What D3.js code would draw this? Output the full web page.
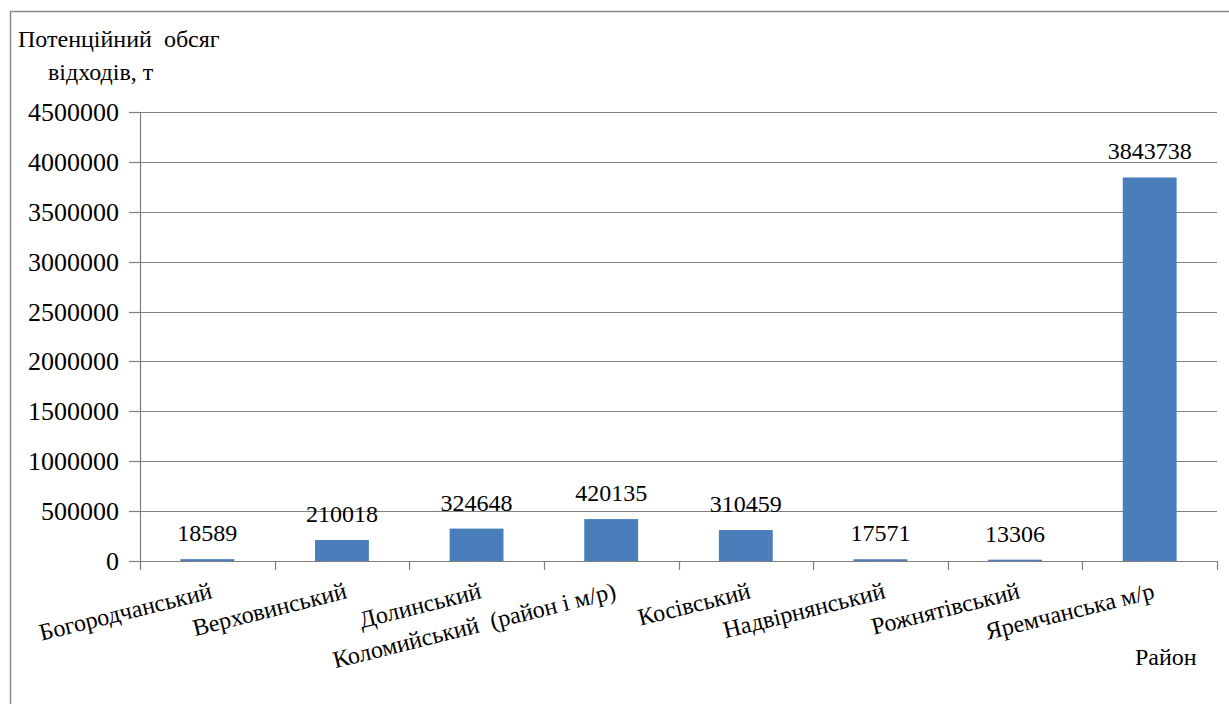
<!DOCTYPE html>
<html>
<head>
<meta charset="utf-8">
<script src="https://cdn.jsdelivr.net/npm/d3@7"></script>
</head>
<body style="margin:0">
<svg id="chart" width="1229" height="704"></svg>
<script>
// ---- data ----
const categories = [
  "Богородчанський",
  "Верховинський",
  "Долинський",
  "Коломийський\u00A0 (район і м/р)",
  "Косівський",
  "Надвірнянський",
  "Рожнятівський",
  "Яремчанська м/р"
];
const values = [18589, 210018, 324648, 420135, 310459, 17571, 13306, 3843738];
const yTicks = [0, 500000, 1000000, 1500000, 2000000, 2500000, 3000000, 3500000, 4000000, 4500000];
const yTitleLines = ["Потенційний\u00A0 обсяг", "відходів, т"];
const xTitle = "Район";

// ---- layout ----
const W = 1229, H = 704;
const plot = { left: 140, right: 1217, top: 112, bottom: 561 };
const svg = d3.select("#chart");

// outer frame
svg.append("rect")
  .attr("x", 10.5).attr("y", 11.5)
  .attr("width", W + 20).attr("height", H + 20)
  .attr("fill", "none").attr("stroke", "#8a8a8a").attr("stroke-width", 1.5);

const x = d3.scaleBand().domain(categories)
  .range([plot.left, plot.right]).paddingInner(0.6).paddingOuter(0.3);
const y = d3.scaleLinear().domain([0, 4500000]).range([plot.bottom, plot.top]);

const gridColor = "#7f7f7f";

function styleText(sel, size) {
  sel.attr("font-size", size).style("font-family", '"Liberation Serif"');
}

// gridlines
svg.append("g").selectAll("line").data(yTicks.filter(d => d > 0)).join("line")
  .attr("x1", plot.left).attr("x2", plot.right)
  .attr("y1", d => Math.round(y(d)) + 0.5).attr("y2", d => Math.round(y(d)) + 0.5)
  .attr("stroke", gridColor).attr("stroke-width", 1.2);

// bars
svg.append("g").selectAll("rect").data(values).join("rect")
  .attr("x", (d, i) => x(categories[i]))
  .attr("width", x.bandwidth())
  .attr("y", d => y(d))
  .attr("height", d => y(0) - y(d))
  .attr("fill", "#4a7ebb");

// y axis line and ticks
svg.append("line")
  .attr("x1", plot.left + 0.5).attr("x2", plot.left + 0.5)
  .attr("y1", plot.top).attr("y2", plot.bottom)
  .attr("stroke", gridColor).attr("stroke-width", 1.2);
svg.append("g").selectAll("line").data(yTicks).join("line")
  .attr("x1", plot.left - 11).attr("x2", plot.left)
  .attr("y1", d => Math.round(y(d)) + 0.5).attr("y2", d => Math.round(y(d)) + 0.5)
  .attr("stroke", gridColor).attr("stroke-width", 1.2);
svg.selectAll("text.ytick").data(yTicks).join("text")
  .attr("class", "ytick")
  .attr("x", plot.left - 21)
  .attr("y", d => y(d) + 9)
  .attr("text-anchor", "end")
  .call(styleText, 26)
  .text(d => d3.format("d")(d));

// x axis line and ticks at category boundaries
const boundaries = d3.range(categories.length + 1).map(i => plot.left + i * (plot.right - plot.left) / categories.length);
svg.append("line")
  .attr("x1", plot.left).attr("x2", plot.right)
  .attr("y1", plot.bottom + 0.5).attr("y2", plot.bottom + 0.5)
  .attr("stroke", gridColor).attr("stroke-width", 1.2);
svg.append("g").selectAll("line").data(boundaries).join("line")
  .attr("x1", d => Math.round(d) + 0.5).attr("x2", d => Math.round(d) + 0.5)
  .attr("y1", plot.bottom).attr("y2", plot.bottom + 9)
  .attr("stroke", gridColor).attr("stroke-width", 1.2);

// x labels (rotated)
svg.selectAll("text.xlab").data(categories).join("text")
  .attr("class", "xlab")
  .attr("transform", d => `translate(${x(d) + x.bandwidth() / 2 + 6},${plot.bottom + 37}) rotate(-14)`)
  .attr("text-anchor", "end")
  .call(styleText, 24)
  .text(d => d);

// data labels
svg.selectAll("text.dlab").data(values).join("text")
  .attr("class", "dlab")
  .attr("x", (d, i) => x(categories[i]) + x.bandwidth() / 2)
  .attr("y", d => y(d) - 18)
  .attr("text-anchor", "middle")
  .call(styleText, 24)
  .text(d => d);

// y title
svg.append("text").attr("x", 18).attr("y", 47)
  .call(styleText, 24).text(yTitleLines[0]);
svg.append("text").attr("x", 48).attr("y", 80)
  .call(styleText, 24).text(yTitleLines[1]);

// x title
svg.append("text").attr("x", 1135).attr("y", 665).call(styleText, 24).text(xTitle);
</script>
</body>
</html>
